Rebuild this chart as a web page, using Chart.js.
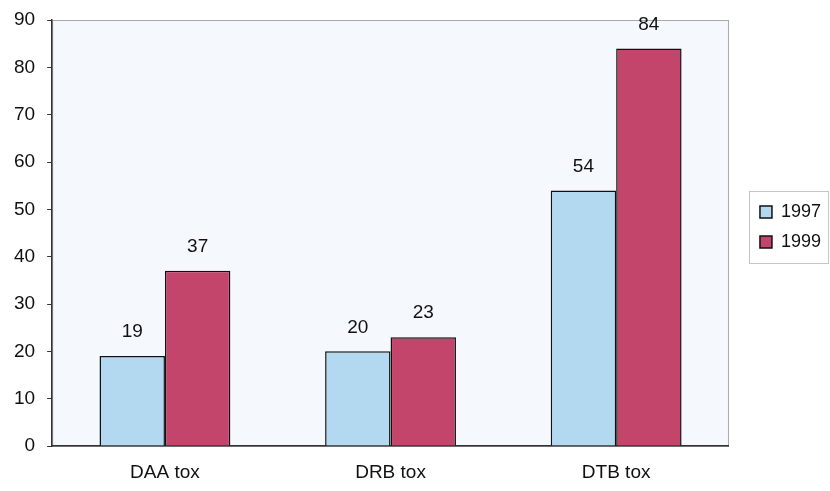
<!DOCTYPE html>
<html>
<head>
<meta charset="utf-8">
<script src="https://cdn.jsdelivr.net/npm/chart.js@4/dist/chart.umd.min.js"></script>
<style>
  html, body { margin: 0; padding: 0; background: #fff; }
  #wrap { width: 830px; height: 491px; }
</style>
</head>
<body>
<div id="wrap"><canvas id="chart"></canvas></div>
<script>
var categories = ['DAA tox', 'DRB tox', 'DTB tox'];
var seriesNames = ['1997', '1999'];
var values1997 = [19, 20, 54];
var values1999 = [37, 23, 84];
var yTicks = [0, 10, 20, 30, 40, 50, 60, 70, 80, 90];

var fontFam = '"Liberation Sans", Arial, sans-serif';

// plot area background + frame, and a frame round the legend
var plotBg = {
    id: 'plotBg',
    afterLayout: function(chart) {
        // move legend to the right edge and a bit up, like the original
        var lg = chart.legend;
        lg.left += 19; lg.right += 19;
        lg.top -= 26; lg.bottom -= 26;
    },
    beforeDraw: function(chart) {
        var a = chart.chartArea;
        var ctx = chart.ctx;
        ctx.save();
        ctx.fillStyle = '#f5f8fc';
        ctx.fillRect(a.left, a.top, a.right - a.left, a.bottom - a.top);
        ctx.strokeStyle = '#a8a8a8';
        ctx.lineWidth = 1;
        ctx.strokeRect(a.left + 0.5, a.top + 0.5, a.right - a.left - 1, a.bottom - a.top);
        ctx.restore();
    },
    afterDraw: function(chart) {
        var lg = chart.legend;
        var ctx = chart.ctx;
        var hb = lg.legendHitBoxes;
        ctx.save();
        ctx.strokeStyle = '#c4c4c4';
        ctx.lineWidth = 1;
        var top = hb[0].top - 12;
        var bottom = hb[hb.length - 1].top + hb[0].height + 12;
        ctx.strokeRect(Math.round(lg.left) + 1.5, Math.round(top) + 0.5, lg.width - 4, bottom - top);
        ctx.restore();
    }
};

// value labels over the bars
var valueLabels = {
    id: 'valueLabels',
    afterDatasetsDraw: function(chart) {
        var ctx = chart.ctx;
        ctx.save();
        ctx.font = '19px ' + fontFam;
        ctx.fillStyle = '#111';
        ctx.textAlign = 'center';
        ctx.textBaseline = 'middle';
        chart.data.datasets.forEach(function(ds, i) {
            var meta = chart.getDatasetMeta(i);
            meta.data.forEach(function(bar, j) {
                ctx.fillText(ds.data[j], bar.x, bar.y - 24);
            });
        });
        ctx.restore();
    }
};

var ctx = document.getElementById('chart').getContext('2d');
var myChart = new Chart(ctx, {
    type: 'bar',
    data: {
        labels: categories,
        datasets: [{
            label: seriesNames[0],
            data: values1997,
            backgroundColor: '#b2d9f0',
            borderColor: '#111',
            borderWidth: 1.5,
            borderSkipped: 'bottom'
        }, {
            label: seriesNames[1],
            data: values1999,
            backgroundColor: '#c4456c',
            borderColor: '#111',
            borderWidth: 1.5,
            borderSkipped: 'bottom'
        }]
    },
    options: {
        responsive: true,
        maintainAspectRatio: false,
        animation: false,
        layout: { padding: { top: 20, right: 18, left: 2, bottom: 5 } },
        datasets: {
            bar: { categoryPercentage: 0.58, barPercentage: 1.0 }
        },
        plugins: {
            legend: {
                position: 'right',
                labels: {
                    boxWidth: 12,
                    boxHeight: 12,
                    padding: 12,
                    color: '#111',
                    font: { family: fontFam, size: 18 }
                }
            },
            tooltip: { enabled: false }
        },
        scales: {
            x: {
                afterFit: function(scale) { scale.height = 40; },
                grid: { display: false, drawTicks: false },
                border: { color: '#333', width: 1.5 },
                ticks: {
                    color: '#111',
                    padding: 15,
                    font: { family: fontFam, size: 19 }
                }
            },
            y: {
                min: 0,
                max: 90,
                afterFit: function(scale) { scale.paddingTop = 0; scale.paddingBottom = 0; },
                afterBuildTicks: function(axis) {
                    axis.ticks = yTicks.map(function(v) { return { value: v }; });
                },
                grid: { drawOnChartArea: false, drawTicks: true, tickLength: 5, color: '#333' },
                border: { color: '#333', width: 1.5 },
                ticks: {
                    color: '#111',
                    padding: 12,
                    font: { family: fontFam, size: 19 }
                }
            }
        }
    },
    plugins: [plotBg, valueLabels]
});
</script>
</body>
</html>
